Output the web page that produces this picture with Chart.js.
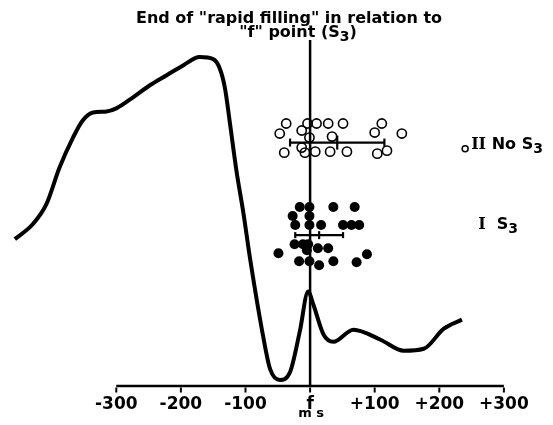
<!DOCTYPE html>
<html>
<head>
<meta charset="utf-8">
<script src="https://cdn.jsdelivr.net/npm/chart.js@4.4.1/dist/chart.umd.min.js"></script>
<style>
  html, body { margin: 0; padding: 0; background: #fff; }
  #wrap { width: 553px; height: 425px; position: relative; }
</style>
</head>
<body>
<div id="wrap"><canvas id="chart"></canvas></div>
<script>
// x axis ticks (ms relative to the "f" point)
const tickValues = [-300, -200, -100, 0, 100, 200, 300];

// apexcardiogram-like tracing (ms, arbitrary amplitude)
const curveMs  = [-457, -429, -408, -388, -367, -352, -336, -315, -300, -274, -248, -222, -196, -171, -150, -140, -132, -124, -114, -103, -93, -72, -62, -47, -31, -16, -3, 5, 21, 36, 67, 109, 145, 176, 207, 235];
const curveAmp = [146, 161, 181, 217, 247, 264, 272, 273, 276, 287, 299, 309, 319, 327, 325, 316, 297, 261, 214, 171, 127, 47, 17, 6, 14, 54, 94, 81, 51, 44, 56, 46, 35, 37, 57, 66];

// group II - no S3 (open circles)
const noS3Ms = [-37, -4, 10, 28, 51, 111, -47, -13, 100, 142, -1, 34, -40, -13, -8, 8, 31, 57, 104, 119];
const noS3Y  = [261, 261, 261, 261, 261, 261, 251, 254, 252, 251, 247, 248, 232, 237, 232, 233, 233, 233, 231, 234];

// group I - S3 (filled circles)
const s3Ms = [-16, -1, 36, 69, -27, -1, -23, -1, 17, 51, 64, 76, -24, -11, -3, -5, 12, 28, -49, 88, -17, -1, 14, 36, 72];
const s3Y  = [178, 178, 178, 178, 169, 169, 160, 160, 160, 160, 160, 160, 141, 141, 141, 135, 137, 137, 132, 131, 124, 124, 120, 124, 123];

// mean +/- SD bars: [group II, group I]
const groupMean = [42, 14];
const groupSd   = [73, 37];
const groupRowY = [242, 150];

const SANS = '"DejaVu Sans", sans-serif';
const SERIF = '"DejaVu Serif", serif';

function drawRich(ctx, parts, x, y, align, size) {
    const fonts = parts.map(p => `bold ${p.sub ? Math.round(size * 0.85) : size}px ${p.serif ? SERIF : SANS}`);
    const widths = parts.map((p, i) => { ctx.font = fonts[i]; return ctx.measureText(p.t).width; });
    const total = widths.reduce((a, b) => a + b, 0);
    let cx = align === 'center' ? x - total / 2 : x;
    ctx.textAlign = 'left';
    parts.forEach((p, i) => {
        ctx.font = fonts[i];
        ctx.fillText(p.t, cx, y + (p.sub ? size * 0.28 : 0));
        cx += widths[i];
    });
}

const figureText = {
    id: 'figureText',
    afterDraw(chart) {
        const { ctx, scales: { x, y } } = chart;
        ctx.save();
        ctx.fillStyle = '#000';
        ctx.textBaseline = 'middle';
        drawRich(ctx, [{ t: 'End of "rapid filling" in relation to' }], 289, 19, 'center', 16);
        drawRich(ctx, [{ t: '"f" point (S' }, { t: '3', sub: true }, { t: ')' }], 298, 33, 'center', 16);

        // axis unit sits right under the "f" tick
        drawRich(ctx, [{ t: 'm s' }], x.getPixelForValue(0) + 1, 414, 'center', 13);

        const lx = x.getPixelForValue(240) + 6;
        drawRich(ctx, [{ t: 'II', serif: true }, { t: ' No S' }, { t: '3', sub: true }], lx, y.getPixelForValue(240), 'left', 16);
        drawRich(ctx, [{ t: 'I', serif: true }, { t: '  S' }, { t: '3', sub: true }], lx + 7, y.getPixelForValue(160), 'left', 16);
        ctx.restore();
    }
};

function errorBar(i) {
    return {
        data: [
            { x: groupMean[i] - groupSd[i], y: groupRowY[i] },
            { x: groupMean[i], y: groupRowY[i] },
            { x: groupMean[i] + groupSd[i], y: groupRowY[i] }
        ],
        showLine: true,
        borderColor: '#000',
        borderWidth: 2.2,
        pointStyle: 'line',
        rotation: 90,
        pointRadius: i === 0 ? [4, 7, 4] : [3, 4, 3],
        pointBorderWidth: 2.2,
        pointBorderColor: '#000',
        order: 1
    };
}

new Chart(document.getElementById('chart'), {
    type: 'scatter',
    data: {
        datasets: [
            {
                data: noS3Ms.map((v, i) => ({ x: v, y: noS3Y[i] })),
                pointRadius: 4.6,
                pointBorderWidth: 1.6,
                pointBorderColor: '#000',
                pointBackgroundColor: 'rgba(255,255,255,0)',
                order: 0
            },
            {
                data: s3Ms.map((v, i) => ({ x: v, y: s3Y[i] })),
                pointRadius: 5,
                pointBorderWidth: 0,
                pointBackgroundColor: '#000',
                order: 0
            },
            {
                // marker beside the "II No S3" label
                data: [{ x: 240, y: 236 }],
                pointRadius: 3,
                pointBorderWidth: 1.5,
                pointBorderColor: '#000',
                pointBackgroundColor: '#fff',
                order: 0
            },
            errorBar(0),
            errorBar(1),
            {
                data: curveMs.map((v, i) => ({ x: v, y: curveAmp[i] })),
                showLine: true,
                borderColor: '#000',
                borderWidth: 4,
                pointRadius: 0,
                cubicInterpolationMode: 'monotone',
                clip: false,
                order: 2
            },
            {
                // vertical line at the "f" point
                data: [{ x: 0, y: 0 }, { x: 0, y: 344 }],
                showLine: true,
                borderColor: '#000',
                borderWidth: 2.5,
                pointRadius: 0,
                clip: false,
                order: 2
            },
            {
                // time axis, drawn only over the ticked span
                data: [{ x: tickValues[0], y: 0 }, { x: tickValues[tickValues.length - 1], y: 0 }],
                showLine: true,
                borderColor: '#000',
                borderWidth: 2.5,
                pointRadius: 0,
                clip: false,
                order: 2
            },
            {
                // small tick marks hanging under the axis
                data: tickValues.map(v => ({ x: v, y: -4 })),
                pointStyle: 'line',
                rotation: 90,
                pointRadius: 2.5,
                pointBorderWidth: 2,
                pointBorderColor: '#000',
                clip: false,
                order: 2
            }
        ]
    },
    options: {
        responsive: true,
        maintainAspectRatio: false,
        animation: false,
        events: [],
        layout: { autoPadding: false, padding: { left: 0, right: 0, top: 40, bottom: 2 } },
        plugins: {
            legend: { display: false },
            tooltip: { enabled: false }
        },
        scales: {
            x: {
                type: 'linear',
                min: -480,
                max: 376,
                afterBuildTicks: axis => { axis.ticks = tickValues.map(v => ({ value: v })); },
                grid: { display: false, drawTicks: false },
                border: { display: false },
                ticks: {
                    color: '#000',
                    padding: 10,
                    maxRotation: 0,
                    autoSkip: false,
                    font: { family: SANS, size: 17, weight: 'bold', lineHeight: 1 },
                    callback: v => v === 0 ? 'f' : (v > 0 ? '+' + v : '-' + Math.abs(v))
                },
                title: { display: false }
            },
            y: { display: false, min: 0, max: 344 }
        }
    },
    plugins: [figureText]
});
</script>
</body>
</html>
